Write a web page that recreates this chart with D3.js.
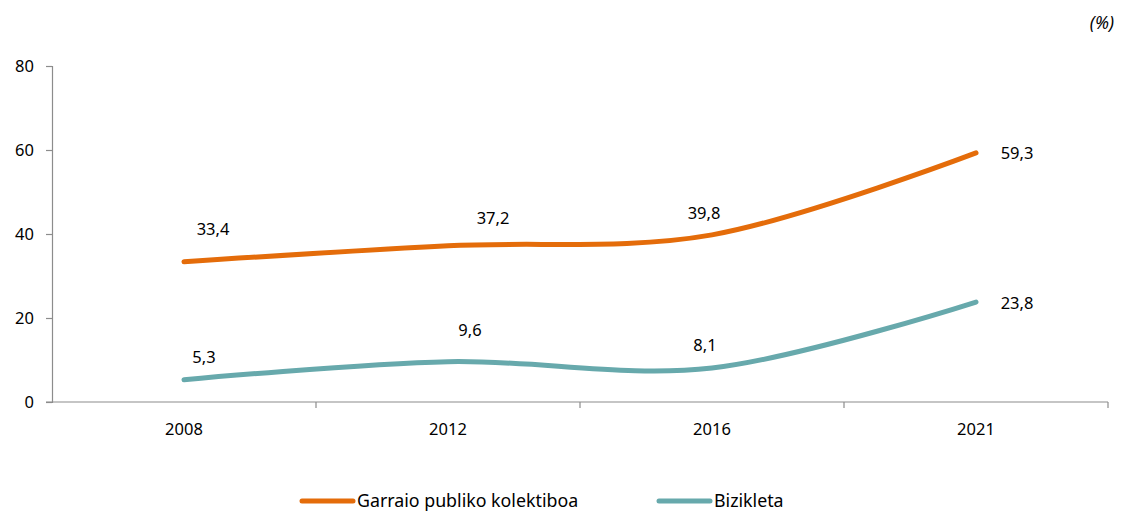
<!DOCTYPE html>
<html>
<head>
<meta charset="utf-8">
<script src="https://cdn.jsdelivr.net/npm/d3@7"></script>
<style>
  html, body { margin: 0; padding: 0; background: #fff; }
  svg { display: block; font-family: "Noto Sans", "Open Sans", sans-serif; }
</style>
</head>
<body>
<svg id="chart" width="1125" height="513"></svg>
<script>
// Data
const years = ["2008", "2012", "2016", "2021"];
const publicTransport = [33.4, 37.2, 39.8, 59.3];
const bicycle = [5.3, 9.6, 8.1, 23.8];
const yTicks = [0, 20, 40, 60, 80];
const seriesNames = ["Garraio publiko kolektiboa", "Bizikleta"];

// Label placement relative to each point (dx, dy in px)
const labelOffsetsPT = [[29, -32], [45, -28], [-8, -22], [41, 0]];
const labelOffsetsBI = [[20, -23], [22, -31], [-7, -23], [41, 1]];

const colors = ["#E46C0A", "#67A9AC"];
const axisColor = "#8c8c8c";
const fontSize = "16.5px";
const legendFontSize = "17.8px";

const svg = d3.select("#chart");
const margin = { left: 52, right: 17, top: 66, bottom: 111 };
const W = 1125, H = 513;

const x = d3.scaleBand().domain(years).range([margin.left, W - margin.right]);
const y = d3.scaleLinear().domain([0, 80]).range([H - margin.bottom, margin.top]);

// Y axis
const yAxis = svg.append("g")
  .attr("transform", `translate(${margin.left},0)`)
  .call(d3.axisLeft(y).tickValues(yTicks).tickSize(6).tickPadding(12).tickFormat(d3.format("d")));
yAxis.select(".domain").attr("stroke", axisColor).attr("stroke-width", 1.2);
yAxis.selectAll(".tick line").attr("stroke", axisColor).attr("stroke-width", 1.2);
yAxis.selectAll("text").attr("fill", "#000").style("font-size", fontSize).style("font-family", "'Noto Sans', sans-serif");

// X axis with ticks at band boundaries
const xAxisG = svg.append("g").attr("transform", `translate(0,${y(0)})`);
xAxisG.append("line")
  .attr("x1", margin.left - 6).attr("x2", W - margin.right)
  .attr("stroke", axisColor).attr("stroke-width", 1.2);
const boundaries = years.map(d => x(d)).concat([x(years[years.length - 1]) + x.bandwidth()]);
xAxisG.selectAll("line.tk").data(boundaries.slice(1)).join("line")
  .attr("class", "tk")
  .attr("x1", d => d).attr("x2", d => d)
  .attr("y1", 0).attr("y2", 6)
  .attr("stroke", axisColor).attr("stroke-width", 1.2);
xAxisG.selectAll("text").data(years).join("text")
  .attr("x", d => x(d) + x.bandwidth() / 2)
  .attr("y", 33)
  .attr("text-anchor", "middle")
  .style("font-size", fontSize)
  .text(d => d);

// Lines
const line = d3.line()
  .x((d, i) => x(years[i]) + x.bandwidth() / 2)
  .y(d => y(d))
  .curve(d3.curveCardinal.tension(0));

const allSeries = [publicTransport, bicycle];
const offsets = [labelOffsetsPT, labelOffsetsBI];
const fmt = v => d3.format(".1f")(v).replace(".", ",");

allSeries.forEach((vals, s) => {
  svg.append("path")
    .datum(vals)
    .attr("d", line)
    .attr("fill", "none")
    .attr("stroke", colors[s])
    .attr("stroke-width", 5)
    .attr("stroke-linecap", "round");
  svg.append("g").selectAll("text").data(vals).join("text")
    .attr("x", (d, i) => x(years[i]) + x.bandwidth() / 2 + offsets[s][i][0])
    .attr("y", (d, i) => y(d) + offsets[s][i][1])
    .attr("text-anchor", "middle")
    .attr("dy", "0.35em")
    .style("font-size", fontSize)
    .text(d => fmt(d));
});

// Unit note
svg.append("text")
  .attr("x", 1114).attr("y", 29)
  .attr("text-anchor", "end")
  .style("font-size", "17.5px")
  .style("font-style", "italic")
  .text("(%)");

// Legend
const legendItems = [
  { name: seriesNames[0], color: colors[0], x: 300 },
  { name: seriesNames[1], color: colors[1], x: 657 }
];
const lg = svg.append("g").attr("transform", "translate(0,501)");
legendItems.forEach(it => {
  lg.append("line")
    .attr("x1", it.x + 2).attr("x2", it.x + 53)
    .attr("y1", 0).attr("y2", 0)
    .attr("stroke", it.color).attr("stroke-width", 5)
    .attr("stroke-linecap", "round");
  lg.append("text")
    .attr("x", it.x + 57).attr("y", 0)
    .attr("dy", "0.35em")
    .style("font-size", legendFontSize)
    .text(it.name);
});
</script>
</body>
</html>
